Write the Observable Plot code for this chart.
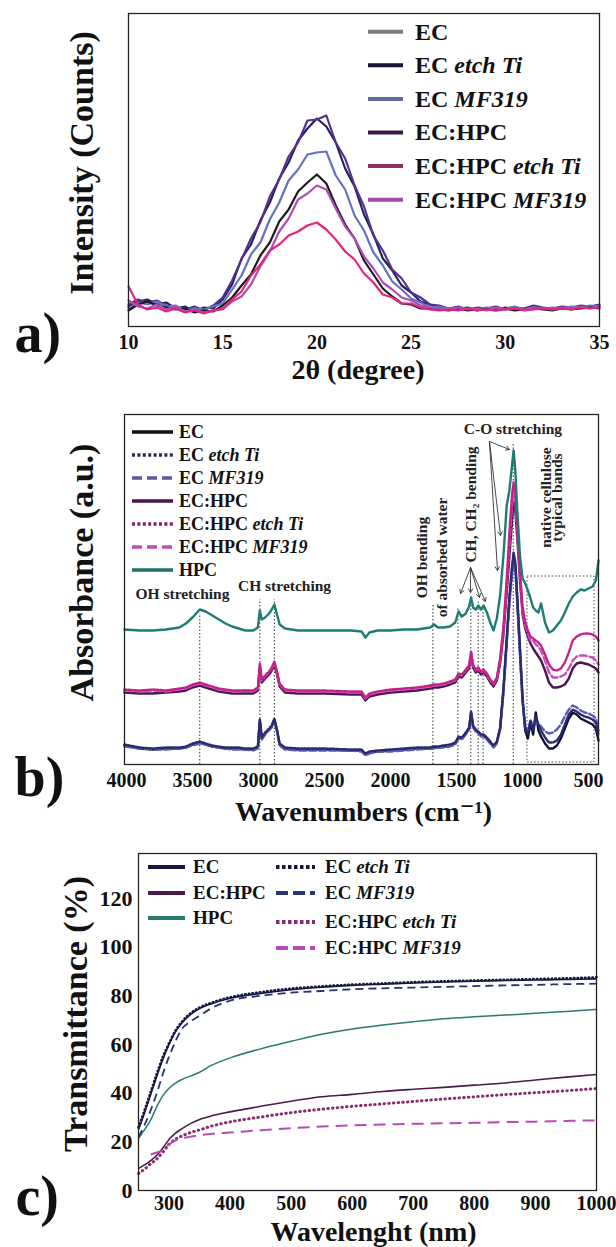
<!DOCTYPE html>
<html><head><meta charset="utf-8">
<script src="https://cdn.jsdelivr.net/npm/d3@7"></script>
<script src="https://cdn.jsdelivr.net/npm/@observablehq/plot@0.6"></script>
<style>
html,body{margin:0;padding:0;background:#fff;}
#chart{width:616px;}
#chart svg{display:block;}
#chart svg text{font-family:"Liberation Serif","DejaVu Serif",serif;}
</style></head>
<body><div id="chart"></div>
<script>
// ---------- Panel a: XRD ----------
const xrdAngle = [10,10.5,11,11.5,12,12.5,13,13.5,14,14.5,15,15.5,16,16.5,17,17.5,18,18.5,19,19.5,20,20.5,21,21.5,22,22.5,23,23.5,24,24.5,25,25.5,26,26.5,27,27.5,28,28.5,29,29.5,30,30.5,31,31.5,32,32.5,33,33.5,34,34.5,35];
const xrdEC = [16,22,25,21,19,17,18,14,16,15, 21,29,41,52,71,84,105,117,135,144,152,143,121,102,88,66,52,38,30,23,22,18,18, 17,16,18,16,17,17,16,18,16,17,18,17,16,18,17,18,19,18];
const xrdECetch = [20,25,27,22,24,18,20,15,19,18, 27,42,68,82,106,124,148,164,186,198,208,200,184,158,140,112,92,68,56,41,34,25,22, 19,17,18,19,16,18,17,19,17,18,20,18,17,19,18,20,19,21];
const xrdECmf = [18,24,22,25,20,21,16,18,17,20, 23,37,51,72,84,107,124,146,157,172,174,175,151,137,111,96,74,61,45,37,28,24,19, 20,18,19,18,17,19,18,18,20,17,19,18,19,18,20,19,21,20];
const xrdECHPC = [22,27,24,26,21,19,17,20,16,21, 29,46,67,88,104,130,147,170,184,206,207,211,184,168,141,120,91,76,57,48,34,29,22, 21,18,20,17,19,18,20,17,19,18,21,19,18,20,19,21,20,22];
const xrdECHPCetch = [40,22,17,19,15,18,14,16,13,16, 18,27,35,51,62,76,82,91,95,101,104,97,87,75,67,53,44,32,29,23,23,19,17, 16,17,16,18,16,17,16,17,18,16,17,18,17,18,17,19,18,19];
const xrdECHPCmf = [26,20,18,22,17,20,15,17,14,16, 17,25,30,42,60,75,95,108,127,133,141,137,118,100,88,70,58,44,37,29,26,21,19, 18,17,19,17,18,16,19,17,18,17,19,18,17,19,18,20,18,20];
const xrdNames = ["EC","EC","EC","EC:HPC","EC:HPC","EC:HPC"];
const xrdSuffix = ["","etch Ti","MF319","","etch Ti","MF319"];
const xrdTicks = [10,15,20,25,30,35];

// ---------- Panel b: FTIR ----------
const ftirWave = [4015,3900,3800,3700,3600,3550,3500,3445,3400,3350,3300,3250,3200,3150,3100,3040,3005,2990,2975,2950,2920,2900,2880,2860,2840,2800,2700,2500,2300,2220,2190,2160,2100,2000,1900,1800,1700,1670,1640,1600,1550,1510,1485,1460,1430,1405,1390,1375,1355,1335,1315,1295,1270,1245,1220,1195,1170,1145,1120,1100,1080,1068,1055,1040,1020,1000,980,960,940,920,900,880,860,830,800,770,740,710,680,650,620,590,560,530,500,470,445,425];
const ftirEC = [19,16,15,16,16,17,20,22,20,18, 17,16,16,16,15,15,17,44,26,31, 35,38,45,34,20,16,15,15,14,14, 10,12,13,14,15,16,16,17,17,18, 19,21,27,26,31,36,52,38,34,32, 29,29,26,22,18,22,36,74,124,164, 194,209,199,164,114,64,34,26,42,30, 52,34,28,21,16,16,19,26,36,46, 52,50,46,44,42,40,36,24];
const ftirECetch = [20,17,16,17,17,18,21,23,21,19, 18,17,17,17,16,16,18,45,27,32, 36,39,46,35,21,17,16,16,15,15, 11,13,14,15,16,17,17,18,18,19, 20,22,28,27,32,37,53,39,35,33, 30,30,27,23,19,23,37,76,127,168, 198,212,202,168,118,67,36,30,44,34, 48,40,34,27,22,22,24,30,40,50, 55,53,50,48,47,45,42,29];
const ftirECmf = [18,16,15,15,16,17,19,21,20,18, 17,16,15,15,15,14,16,43,25,30, 34,37,44,33,19,15,14,14,14,13, 9,11,13,13,14,15,16,16,17,17, 18,20,26,25,30,35,51,37,33,31, 28,28,25,21,17,21,35,72,121,160, 190,205,196,160,110,62,38,34,44,38, 42,40,38,33,31,32,35,40,48,55, 59,57,54,52,51,49,46,34];
const ftirECHPC = [72,71,71,72,73,74,77,79,77,75, 73,72,71,71,71,71,74,97,82,86, 90,94,99,90,78,72,71,71,70,70, 64,68,70,72,73,74,76,77,77,78, 80,82,88,87,92,96,108,97,92,94, 90,92,88,82,78,84,101,130,172,208, 244,262,254,226,184,150,136,128,121,116, 112,108,104,94,82,77,77,78,80,86, 96,101,102,101,100,98,96,92];
const ftirECHPCetch = [75,74,75,74,76,77,80,82,80,78, 76,75,74,74,74,74,77,101,85,89, 93,97,103,93,81,75,74,74,73,73, 67,71,73,75,76,77,79,80,80,81, 83,85,91,90,95,99,113,100,95,97, 93,95,91,85,81,87,106,138,186,232, 270,282,272,240,194,158,143,134,128,126, 124,122,119,110,100,95,94,96,102,112, 124,128,130,131,131,130,128,124];
const ftirECHPCmf = [74,73,74,73,75,76,79,81,79,77, 75,74,73,73,74,73,76,100,84,88, 92,96,102,92,80,74,73,73,72,72, 66,70,72,74,75,76,78,79,79,80, 82,84,90,89,94,98,112,99,94,96, 92,94,90,84,80,86,104,134,179,219, 259,274,266,234,189,154,139,131,124,124, 120,118,114,104,92,87,87,88,90,96, 104,108,109,109,108,107,104,100];
const ftirHPC = [135,134,134,135,137,141,147,155,153,149, 145,141,138,136,134,134,137,154,145,147, 151,155,160,150,140,136,134,134,134,133, 127,132,134,134,135,135,137,140,137,137, 138,142,153,148,151,158,167,157,155,159, 155,159,152,142,134,146,169,209,259,274, 299,314,294,254,209,186,181,174,166,157, 154,152,161,142,132,134,139,144,152,161, 168,172,175,174,176,178,184,204];
const ftirNames = ["EC","EC","EC","EC:HPC","EC:HPC","EC:HPC","HPC"];
const ftirSuffix = ["","etch Ti","MF319","","etch Ti","MF319",""];
const ftirTicks = [4000,3500,3000,2500,2000,1500,1000,500];
const refWave = [3445,2990,2880,1679,1490,1392,1336,1299,1071];
const refTop = [151,165,165,161,156,167,164,161,321];
const boxWave = [963,455];
const boxAbs = [2,188];
const annoText = ["OH stretching","CH stretching","OH bending","of absorbed water","CH, CH\u2082 bending","C-O stretching","native cellulose","typical bands"];
const annoWave = [3576,2803,1765,1607,1394,1073,826,736];
const annoAbs = [170,178,207,207,260,335,267,267];
const annoAngle = [0,0,-90,-90,-90,0,-90,-90];
const arrowFromWave = [1251,1251,1251,1394,1394,1394,1394];
const arrowFromAbs = [323,323,323,197,197,197,197];
const arrowToWave = [1099,1167,1190,1470,1394,1326,1281];
const arrowToAbs = [315,229,194,171,172,167,163];

// ---------- Panel c: UV-Vis ----------
const uvWave = [250,260,270,280,290,300,310,320,335,350,370,400,450,500,550,600,650,700,750,800,850,900,950,1000];
const uvEC = [25,32,39.5,47,54,60,65,68.5,72.3,74.8,76.8,79,81,82.5,83.5,84.3,84.8,85.3,85.7,86,86.3,86.5,86.7,87];
const uvECHPC = [9,10.5,12.3,14.5,17.5,21,23.5,25.2,27.5,29.2,30.7,32.3,34.6,36.7,38.5,39.5,40.7,41.6,42.4,43.3,44.2,45.4,46.6,47.7];
const uvHPC = [21.4,25,29,34.5,39,42,44,45.5,47,48.6,51.5,54.5,58.2,61.3,64.2,66.4,68,69.4,70.6,71.4,72.1,72.8,73.6,74.4];
const uvECetch = [26,33,40.5,48,55,60.5,65.5,69,72.8,75.2,77.2,79.4,81.5,83,83.9,84.6,85.1,85.6,86,86.3,86.6,86.9,87.2,87.6];
const uvECmf = [22,27,33,40,48,55,61,66,69.5,71.8,75,78,80,81.3,82,82.7,83.1,83.4,83.7,84,84.3,84.5,84.8,85];
const uvECHPCetch = [7,8.8,11,13,15.8,19,21,22.3,23.8,24.9,26.5,28.2,30.2,32,33.4,34.6,35.6,36.6,37.6,38.5,39.4,40.2,41,41.9];
const uvECHPCmf = [null,null,14.8,15.6,16.6,19,20.5,21.3,22.1,22.7,23.3,23.8,24.8,25.6,26.3,26.8,27.1,27.4,27.6,27.8,28.1,28.3,28.6,28.8];
const uvNames = ["EC","EC:HPC","HPC","EC","EC","EC:HPC","EC:HPC"];
const uvSuffix = ["","","","etch Ti","MF319","etch Ti","MF319"];
const uvXTicks = [300,400,500,600,700,800,900,1000];
const uvYTicks = [0,20,40,60,80,100,120];

// ---------- styles ----------
const FONT = "Liberation Serif, DejaVu Serif, serif";
const baseStyle = "font-family: Liberation Serif, DejaVu Serif, serif; font-weight: bold; background: white; color: #111; overflow: visible;";
const INK = "#111";
const fmt = d => String(d);

function legendMark(items, fontSize) {
  return function(index, scales, values, dims) {
    const ml = dims && dims.marginLeft != null ? dims.marginLeft : 0;
    const mt = dims && dims.marginTop != null ? dims.marginTop : 0;
    const g = d3.create("svg:g").attr("font-family", FONT).attr("font-weight", "bold").attr("font-size", fontSize);
    for (const it of items) {
      const y = mt + it.y;
      g.append("line").attr("x1", ml + it.x0).attr("x2", ml + it.x1).attr("y1", y).attr("y2", y)
        .attr("stroke", it.color).attr("stroke-width", it.width)
        .attr("stroke-dasharray", it.dash || null);
      const t = g.append("text").attr("x", ml + it.tx).attr("y", y + 0.33 * fontSize)
        .attr("fill", INK).attr("text-anchor", "start").style("white-space", "pre");
      t.append("tspan").text(it.name);
      if (it.suffix) t.append("tspan").attr("font-style", "italic").text(" " + it.suffix);
    }
    return g.node();
  };
}

function rowsOf(xs, ys) { return xs.map((x, i) => ({x, y: ys[i]})); }
const T = {fontFamily: FONT, fontWeight: "bold", fill: INK, lineAnchor: "middle"};

// ---------- Plot A ----------
const xrdValues = [xrdEC, xrdECetch, xrdECmf, xrdECHPC, xrdECHPCetch, xrdECHPCmf];
const xrdLineColor = ["#1c1c1c", "#22225e", "#6670c4", "#56308a", "#e2267c", "#b04cb4"];
const xrdLegendColor = ["#7a7a7a", "#15153a", "#6468a0", "#3a1a45", "#8e3064", "#a448a8"];
const xrdDrawOrder = [1, 3, 2, 0, 5, 4];
const plotA = Plot.plot({
  width: 616, height: 400, marginTop: 13, marginBottom: 74, marginLeft: 128, marginRight: 17,
  style: baseStyle,
  x: {domain: [10, 35]}, y: {domain: [0, 313], axis: null},
  marks: [
    ...xrdDrawOrder.map(i => Plot.line(rowsOf(xrdAngle, xrdValues[i]), {x: "x", y: "y", stroke: xrdLineColor[i], strokeWidth: 2.2, strokeLinejoin: "round"})),
    Plot.frame({stroke: "#222", strokeWidth: 1.3}),
    Plot.axisX(xrdTicks, {tickSize: 0, tickPadding: 8, fontSize: 20, fontFamily: FONT, fontWeight: "bold", tickFormat: fmt, label: null}),
    Plot.text(["2\u03b8 (degree)"], {...T, text: d => d, frameAnchor: "bottom", textAnchor: "middle", dx: -6, dy: 44, fontSize: 28}),
    Plot.text(["Intensity (Counts)"], {...T, text: d => d, frameAnchor: "left", textAnchor: "middle", rotate: -90, dx: -46, dy: -7, fontSize: 34}),
    Plot.text(["a)"], {...T, text: d => d, frameAnchor: "bottom-left", textAnchor: "start", dx: -114, dy: 8, fontSize: 56}),
    legendMark(xrdNames.map((n, i) => ({name: n, suffix: xrdSuffix[i], color: xrdLegendColor[i], width: 4, x0: 240, x1: 275, tx: 287, y: 18.7 + 33.6 * i})), 24)
  ]
});

// ---------- Plot B ----------
const ftirValues = [ftirEC, ftirECetch, ftirECmf, ftirECHPC, ftirECHPCetch, ftirECHPCmf, ftirHPC];
const ftirColor = ["#101035", "#2a2a6e", "#5a5ab0", "#4c1454", "#c42282", "#cc4cbc", "#1e7c74"];
const ftirLegendColor = ["#111", "#2a2a5a", "#5a5a9a", "#4a1650", "#8e1c5e", "#c04cb0", "#1e7068"];
const ftirDash = [null, "2,1.6", "7,3", null, "2,1.6", "7,3", null];
const ftirLegendDash = [null, "3,2.4", "10,5", null, "3,2.4", "10,5", null];
const ftirDrawOrder = [0, 2, 1, 3, 5, 4, 6];
const refRows = refWave.map((w, i) => ({x: w, top: refTop[i]}));
const boxRows = [{x1: boxWave[0], x2: boxWave[1], y1: boxAbs[0], y2: boxAbs[1]}];
const annoRows = annoText.map((t, i) => ({t, x: annoWave[i], y: annoAbs[i], a: annoAngle[i]}));
const arrowRows = arrowFromWave.map((w, i) => ({x1: w, y1: arrowFromAbs[i], x2: arrowToWave[i], y2: arrowToAbs[i]}));
const plotB = Plot.plot({
  width: 616, height: 440, marginTop: 14, marginBottom: 76, marginLeft: 124, marginRight: 18,
  style: baseStyle,
  x: {domain: [4015, 425]}, y: {domain: [0, 350], axis: null},
  marks: [
    Plot.ruleX(refRows, {x: "x", y1: 0, y2: "top", stroke: "#333", strokeWidth: 1, strokeDasharray: "1.5,2"}),
    Plot.rect(boxRows, {x1: "x1", x2: "x2", y1: "y1", y2: "y2", fill: "none", stroke: "#444", strokeWidth: 1, strokeDasharray: "1.5,2"}),
    ...ftirDrawOrder.map(i => Plot.line(rowsOf(ftirWave, ftirValues[i]), {x: "x", y: "y", stroke: ftirColor[i], strokeWidth: 2.4, strokeDasharray: ftirDash[i] || undefined, strokeLinejoin: "round"})),
    Plot.arrow(arrowRows, {x1: "x1", y1: "y1", x2: "x2", y2: "y2", stroke: "#333", strokeWidth: 0.9, headLength: 7}),
    Plot.text(annoRows, {...T, x: "x", y: "y", text: "t", rotate: "a", fontSize: 15.5, fill: "#222"}),
    Plot.frame({stroke: "#222", strokeWidth: 1.3}),
    Plot.axisX(ftirTicks, {tickSize: 0, tickPadding: 8, fontSize: 20, fontFamily: FONT, fontWeight: "bold", tickFormat: fmt, label: null}),
    Plot.text(["Wavenumbers (cm\u207b\u00b9)"], {...T, text: d => d, frameAnchor: "bottom", textAnchor: "middle", dx: 2, dy: 48, fontSize: 28}),
    Plot.text(["Absorbance (a.u.)"], {...T, text: d => d, frameAnchor: "left", textAnchor: "middle", rotate: -90, dx: -42, dy: -17, fontSize: 34}),
    Plot.text(["b)"], {...T, text: d => d, frameAnchor: "bottom-left", textAnchor: "start", dx: -110, dy: 14, fontSize: 56}),
    legendMark(ftirNames.map((n, i) => ({name: n, suffix: ftirSuffix[i], color: ftirLegendColor[i], width: 3.5, dash: ftirLegendDash[i], x0: 8, x1: 49, tx: 55, y: 18 + 23 * i})), 18)
  ]
});

// ---------- Plot C ----------
const uvValues = [uvEC, uvECHPC, uvHPC, uvECetch, uvECmf, uvECHPCetch, uvECHPCmf];
const uvColor = ["#161642", "#4a1a4a", "#2a7a72", "#161642", "#2a3472", "#8a2a6e", "#b84ab4"];
const uvWidth = [1.6, 1.6, 1.5, 2.6, 1.8, 3, 2];
const uvDash = [null, null, null, "0.5,3.2", "8,5", "0.5,4.2", "12,7"];
const uvCap = ["butt", "butt", "butt", "round", "butt", "round", "butt"];
const uvLegendDash = [null, null, null, "3.5,2.5", "12,5", "3.5,2.5", "12,5"];
const uvLegendX0 = [10, 10, 10, 138, 138, 138, 138];
const uvLegendX1 = [47, 47, 47, 177, 177, 177, 177];
const uvLegendTx = [55, 55, 55, 187, 187, 187, 187];
const uvLegendY = [14, 40, 65, 14, 40, 69, 95];
const uvDrawOrder = [2, 1, 5, 6, 4, 0, 3];
const plotC = Plot.plot({
  width: 616, height: 407, marginTop: 13, marginBottom: 57, marginLeft: 138, marginRight: 20,
  style: baseStyle,
  x: {domain: [250, 1000]}, y: {domain: [0, 138.5]},
  marks: [
    ...uvDrawOrder.map(i => Plot.line(rowsOf(uvWave, uvValues[i]), {x: "x", y: "y", stroke: uvColor[i], strokeWidth: uvWidth[i], strokeDasharray: uvDash[i] || undefined, strokeLinecap: uvCap[i], curve: "monotone-x"})),
    Plot.frame({stroke: "#222", strokeWidth: 1.3}),
    Plot.axisX(uvXTicks, {tickSize: 0, tickPadding: 5, fontSize: 20, fontFamily: FONT, fontWeight: "bold", tickFormat: fmt, label: null}),
    Plot.axisY(uvYTicks, {tickSize: 0, tickPadding: 6, fontSize: 22, fontFamily: FONT, fontWeight: "bold", tickFormat: fmt, label: null}),
    Plot.text(["Wavelenght (nm)"], {...T, text: d => d, frameAnchor: "bottom", textAnchor: "middle", dx: 6, dy: 42, fontSize: 28}),
    Plot.text(["Transmittance (%)"], {...T, text: d => d, frameAnchor: "left", textAnchor: "middle", rotate: -90, dx: -62, dy: -8, fontSize: 34}),
    Plot.text(["c)"], {...T, text: d => d, frameAnchor: "bottom-left", textAnchor: "start", dx: -123, dy: 7, fontSize: 56}),
    legendMark(uvNames.map((n, i) => ({name: n, suffix: uvSuffix[i], color: uvColor[i], width: 4, dash: uvLegendDash[i], x0: uvLegendX0[i], x1: uvLegendX1[i], tx: uvLegendTx[i], y: uvLegendY[i]})), 19)
  ]
});

const chart = document.getElementById("chart");
chart.append(plotA, plotB, plotC);
</script></body></html>
